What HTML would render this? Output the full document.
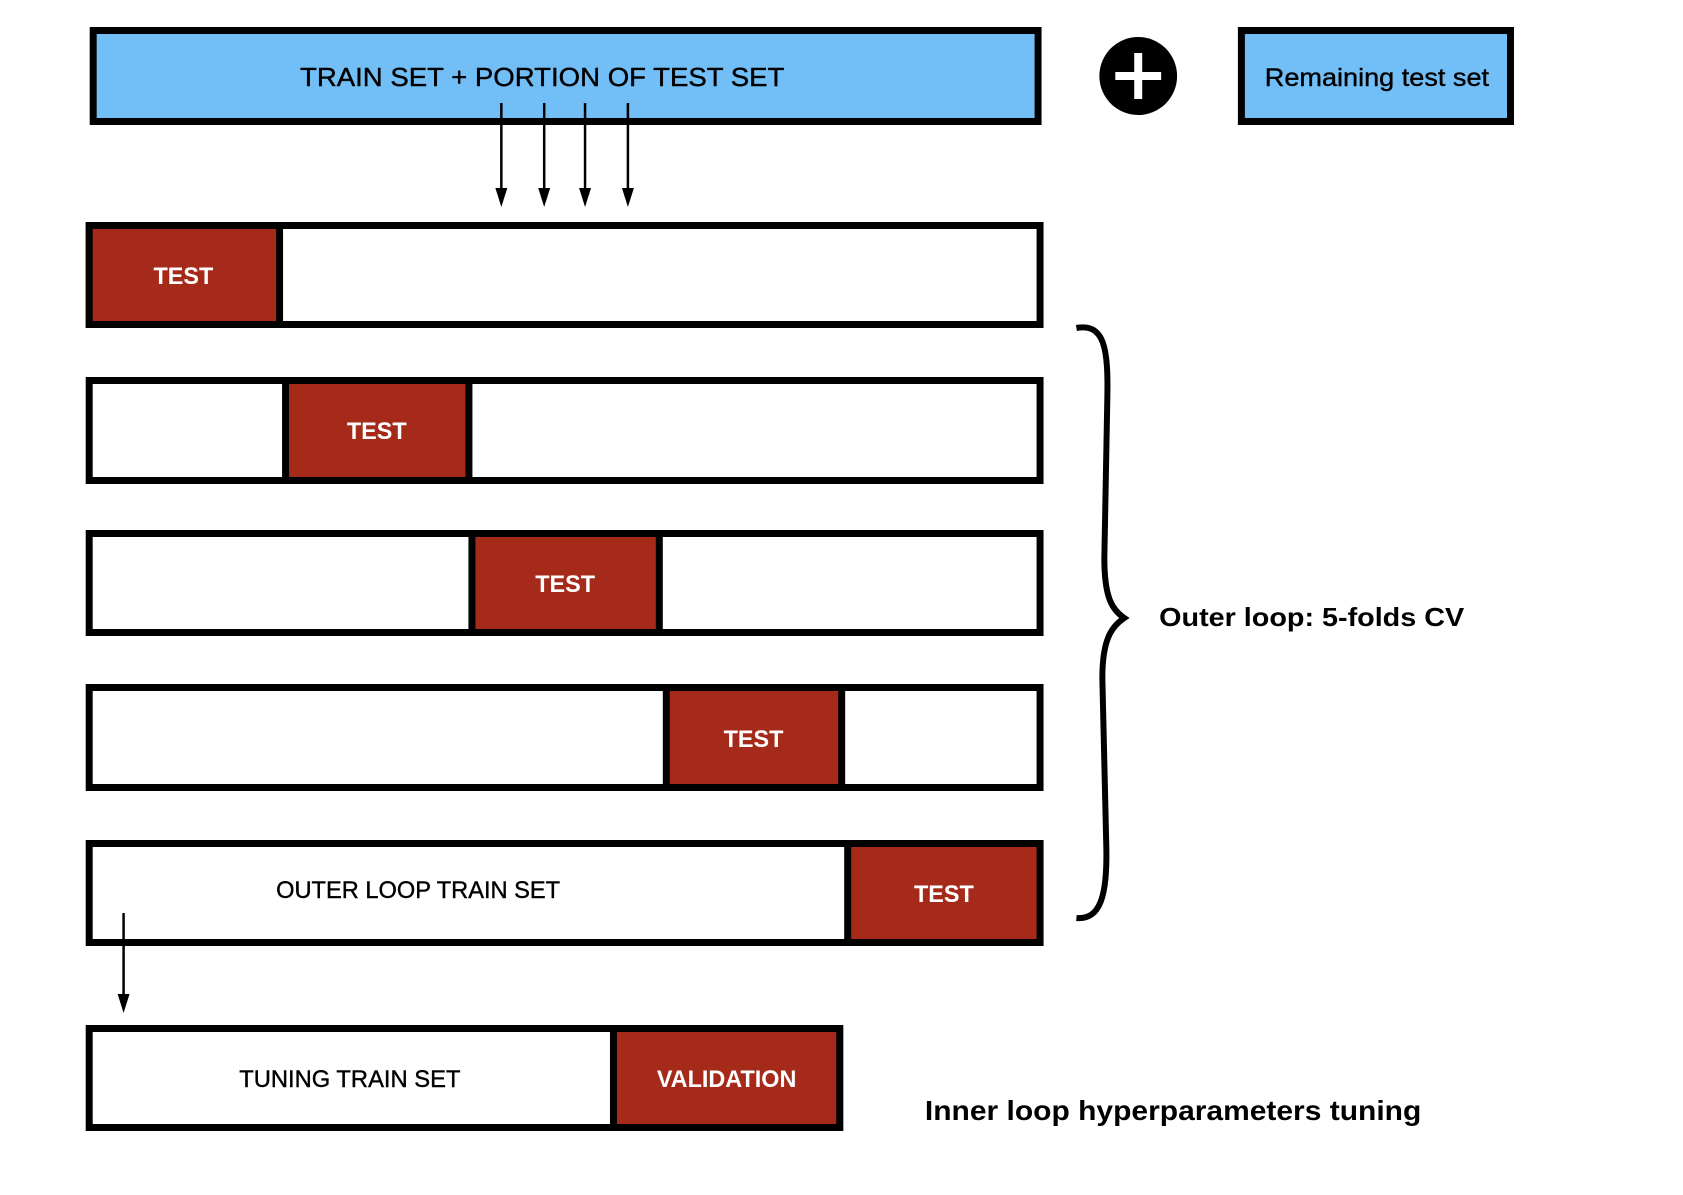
<!DOCTYPE html>
<html><head><style>html,body{margin:0;padding:0;background:#fff}</style></head>
<body>
<svg width="1683" height="1190" viewBox="0 0 1683 1190" xmlns="http://www.w3.org/2000/svg" font-family="Liberation Sans, Arial, sans-serif">
<g transform="translate(-2,-2) scale(0.9967,1)">
<g stroke="#000" stroke-width="7">
<rect x="95.5" y="32.5" width="948" height="91" fill="#72bef7"/>
<rect x="1247.5" y="32.5" width="270" height="91" fill="#72bef7"/>
<rect x="91.5" y="227.5" width="954" height="99" fill="#fff"/>
<rect x="91.5" y="227.5" width="191" height="99" fill="#a52a19"/>
<rect x="91.5" y="382.5" width="954" height="100" fill="#fff"/>
<rect x="288.5" y="382.5" width="184" height="100" fill="#a52a19"/>
<rect x="91.5" y="535.5" width="954" height="99" fill="#fff"/>
<rect x="475.5" y="535.5" width="188" height="99" fill="#a52a19"/>
<rect x="91.5" y="689.5" width="954" height="100" fill="#fff"/>
<rect x="670.5" y="689.5" width="176" height="100" fill="#a52a19"/>
<rect x="91.5" y="845.5" width="954" height="99" fill="#fff"/>
<rect x="852.5" y="845.5" width="193" height="99" fill="#a52a19"/>
<rect x="91.5" y="1030.5" width="753" height="99" fill="#fff"/>
<rect x="617.5" y="1030.5" width="227" height="99" fill="#a52a19"/>
</g>
<circle cx="1144" cy="78" r="39" fill="#000"/>
<rect x="1140" y="55" width="8" height="46" fill="#fff"/>
<rect x="1121" y="74" width="46" height="8" fill="#fff"/>
<g stroke="#000" stroke-width="2.5">
<line x1="505" y1="105" x2="505" y2="196"/>
<line x1="548" y1="105" x2="548" y2="196"/>
<line x1="589" y1="105" x2="589" y2="196"/>
<line x1="632" y1="105" x2="632" y2="196"/>
<line x1="126" y1="915" x2="126" y2="1002"/>
</g>
<g fill="#000">
<path d="M499,190 L511,190 L505,209 z"/>
<path d="M542,190 L554,190 L548,209 z"/>
<path d="M583,190 L595,190 L589,209 z"/>
<path d="M626,190 L638,190 L632,209 z"/>
<path d="M120,996 L132,996 L126,1015 z"/>
</g>
<path d="M1082,330 C1110,325 1114,350 1113,400 L1110,560 C1110,600 1118,612 1130,620 C1118,628 1108,640 1108,680 L1112,850 C1113,900 1105,922 1082,920" fill="none" stroke="#000" stroke-width="6"/>
<g font-size="26" fill="#000" stroke="#000" stroke-width="0.4">
<text x="303" y="88" textLength="486" lengthAdjust="spacingAndGlyphs">TRAIN SET + PORTION OF TEST SET</text>
<text x="1271" y="88" textLength="225" lengthAdjust="spacingAndGlyphs" font-size="25">Remaining test set</text>
<text x="279" y="900" textLength="285" lengthAdjust="spacingAndGlyphs" font-size="24">OUTER LOOP TRAIN SET</text>
<text x="242" y="1089" textLength="222" lengthAdjust="spacingAndGlyphs" font-size="24">TUNING TRAIN SET</text>
</g>
<g font-size="24" font-weight="bold" fill="#fff">
<text x="156" y="286" textLength="60" lengthAdjust="spacingAndGlyphs">TEST</text>
<text x="350" y="441" textLength="60" lengthAdjust="spacingAndGlyphs">TEST</text>
<text x="539" y="594" textLength="60" lengthAdjust="spacingAndGlyphs">TEST</text>
<text x="728" y="749" textLength="60" lengthAdjust="spacingAndGlyphs">TEST</text>
<text x="919" y="904" textLength="60" lengthAdjust="spacingAndGlyphs">TEST</text>
<text x="661" y="1089" textLength="140" lengthAdjust="spacingAndGlyphs">VALIDATION</text>
</g>
<g font-weight="bold" fill="#000">
<text x="1165" y="628" font-size="26" textLength="306" lengthAdjust="spacingAndGlyphs">Outer loop:  5-folds CV</text>
<text x="930" y="1122" font-size="28" textLength="498" lengthAdjust="spacingAndGlyphs">Inner loop hyperparameters tuning</text>
</g>
</g>
</svg>
</body></html>
